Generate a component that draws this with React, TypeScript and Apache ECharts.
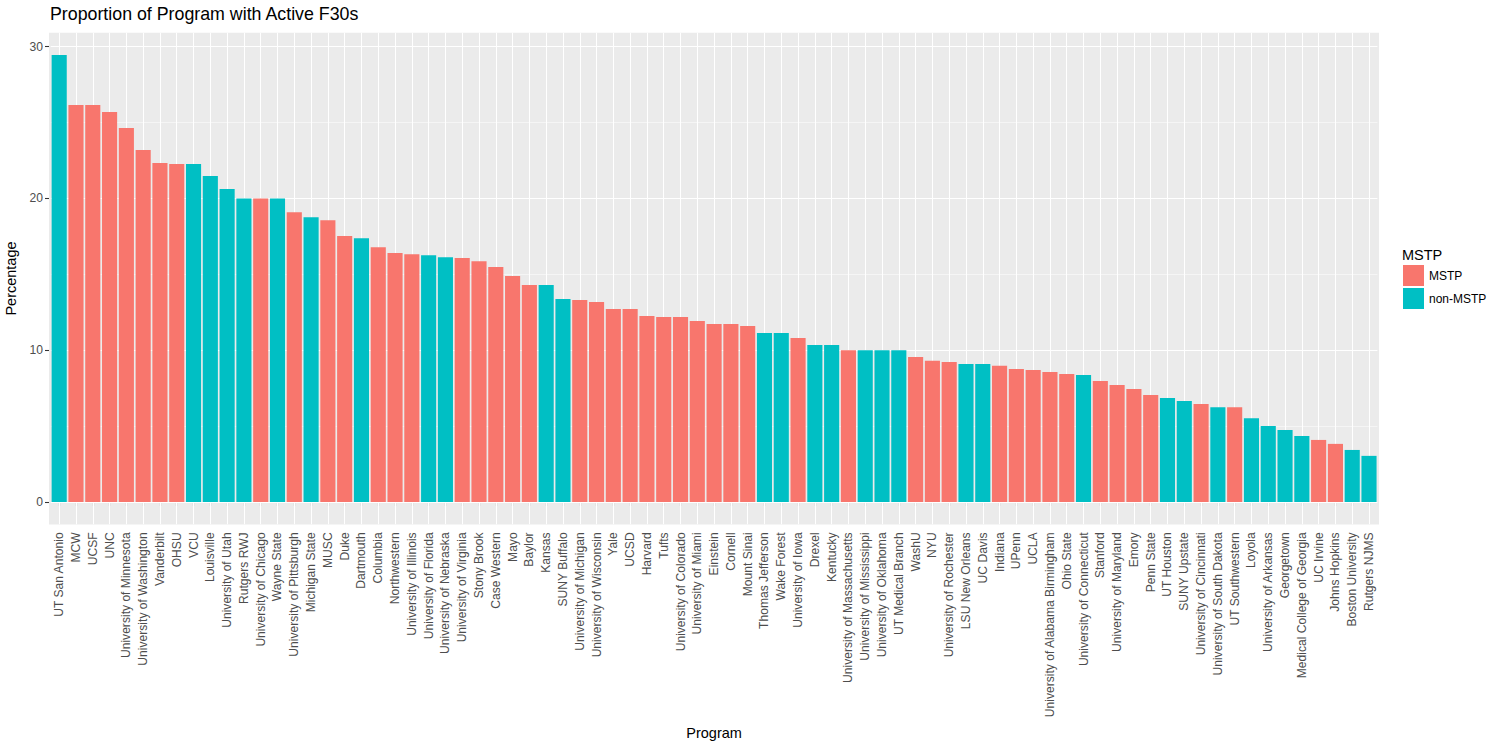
import React, { useEffect, useRef } from "react";
import * as echarts from "echarts";

const programs = [
  "UT San Antonio", "MCW", "UCSF", "UNC", "University of Minnesota", "University of Washington",
  "Vanderbilt", "OHSU", "VCU", "Louisville", "University of Utah", "Rutgers RWJ",
  "University of Chicago", "Wayne State", "University of Pittsburgh", "Michigan State", "MUSC", "Duke",
  "Dartmouth", "Columbia", "Northwestern", "University of Illinois", "University of Florida", "University of Nebraska",
  "University of Virginia", "Stony Brook", "Case Western", "Mayo", "Baylor", "Kansas",
  "SUNY Buffalo", "University of Michigan", "University of Wisconsin", "Yale", "UCSD", "Harvard",
  "Tufts", "University of Colorado", "University of Miami", "Einstein", "Cornell", "Mount Sinai",
  "Thomas Jefferson", "Wake Forest", "University of Iowa", "Drexel", "Kentucky", "University of Massachusetts",
  "University of Mississippi", "University of Oklahoma", "UT Medical Branch", "WashU", "NYU", "University of Rochester",
  "LSU New Orleans", "UC Davis", "Indiana", "UPenn", "UCLA", "University of Alabama Birmingham",
  "Ohio State", "University of Connecticut", "Stanford", "University of Maryland", "Emory", "Penn State",
  "UT Houston", "SUNY Upstate", "University of Cincinnati", "University of South Dakota", "UT Southwestern", "Loyola",
  "University of Arkansas", "Georgetown", "Medical College of Georgia", "UC Irvine", "Johns Hopkins", "Boston University",
  "Rutgers NJMS",
];

const percentages = [
  29.45, 26.16, 26.16, 25.7, 24.64, 23.19,
  22.33, 22.27, 22.27, 21.48, 20.62, 20.0,
  20.0, 20.0, 19.1, 18.77, 18.57, 17.52,
  17.38, 16.79, 16.4, 16.33, 16.26, 16.13,
  16.07, 15.87, 15.48, 14.89, 14.3, 14.3,
  13.38, 13.31, 13.18, 12.72, 12.72, 12.26,
  12.19, 12.19, 11.93, 11.73, 11.73, 11.6,
  11.14, 11.14, 10.81, 10.35, 10.35, 10.0,
  10.0, 10.0, 10.0, 9.56, 9.3, 9.23,
  9.1, 9.1, 8.97, 8.77, 8.7, 8.57,
  8.44, 8.37, 7.98, 7.71, 7.45, 7.05,
  6.85, 6.65, 6.45, 6.25, 6.25, 5.52,
  5.0, 4.75, 4.35, 4.09, 3.83, 3.43,
  3.04,
];

const M = "MSTP";
const N = "non-MSTP";
const groups = [
  N, M, M, M, M, M,
  M, M, N, N, N, N,
  M, N, M, N, M, M,
  N, M, M, M, N, N,
  M, M, M, M, M, N,
  N, M, M, M, M, M,
  M, M, M, M, M, M,
  N, N, M, N, N, M,
  N, N, N, M, M, M,
  N, N, M, M, M, M,
  M, N, M, M, M, M,
  N, N, M, N, M, N,
  N, N, N, M, M, N,
  N,
];

const groupNames = [M, N];
const groupColors = ["#F8766D", "#00BFC4"];
const yMajorTicks = [0, 10, 20, 30];
const yMinorTicks = [5, 15, 25];

const FONT = "'Liberation Sans', Arial, Helvetica, sans-serif";

export default function App() {
  const ref = useRef<HTMLDivElement>(null);

  useEffect(() => {
    document.body.style.margin = "0";
    const chart = echarts.init(ref.current as HTMLDivElement, null, { renderer: "svg" });
    const maxV = Math.max(...percentages);
    const yMin = -maxV * 0.05;
    const yMax = maxV * 1.05;

    const series = groupNames.map((g, gi) => ({
      name: g,
      type: "bar",
      barWidth: "90%",
      barGap: "-100%",
      z: 3,
      itemStyle: { color: groupColors[gi] },
      emphasis: { disabled: true },
      data: percentages.map((v, i) => (groups[i] === g ? v : "-")),
      ...(gi === 0
        ? {
            markLine: {
              silent: true,
              z: 1,
              animation: false,
              symbol: ["none", "none"],
              label: { show: false },
              emphasis: { disabled: true },
              lineStyle: { color: "#FFFFFF", type: "solid", width: 1.07, opacity: 1 },
              data: [
                ...yMajorTicks.map((v) => ({ yAxis: v })),
                ...yMinorTicks.map((v) => ({ yAxis: v, lineStyle: { width: 0.53 } })),
                ...programs.map((p) => ({ xAxis: p })),
              ],
            },
          }
        : {}),
    }));

    chart.setOption({
      animation: false,
      textStyle: { fontFamily: FONT },
      title: [
        {
          text: "Proportion of Program with Active F30s",
          left: 50,
          top: 5,
          padding: 0,
          textStyle: { fontSize: 17.8, fontWeight: "normal", color: "#000000", fontFamily: FONT },
        },
        {
          text: "MSTP",
          left: 1402,
          top: 247,
          padding: 0,
          textStyle: { fontSize: 14.5, fontWeight: "normal", color: "#000000", fontFamily: FONT },
        },
      ],
      legend: {
        orient: "vertical",
        left: 1403,
        top: 265,
        padding: 0,
        itemWidth: 21,
        itemHeight: 21,
        itemGap: 2,
        icon: "rect",
        selectedMode: false,
        data: groupNames,
        textStyle: { fontSize: 12, color: "#000000", fontFamily: FONT },
      },
      graphic: [
        {
          type: "rect",
          z: 0,
          silent: true,
          shape: { x: 49, y: 32.7, width: 1330, height: 491.7 },
          style: { fill: "#EBEBEB" },
        },
      ],
      grid: {
        left: 50.8,
        right: 122.6,
        top: 32.7,
        bottom: 225.65,
        containLabel: false,
        outerBoundsMode: "none",
      },
      xAxis: {
        type: "category",
        data: programs,
        boundaryGap: true,
        axisLine: { show: false },
        axisTick: {
          show: true,
          alignWithLabel: true,
          interval: 0,
          length: 4,
          lineStyle: { color: "#333333", width: 1.07 },
        },
        axisLabel: {
          interval: 0,
          rotate: 90,
          margin: 8,
          fontSize: 12.1,
          color: "#4D4D4D",
          fontFamily: FONT,
        },
        splitLine: { show: false },
        name: "Program",
        nameLocation: "middle",
        nameGap: 201,
        nameTextStyle: { fontSize: 14.5, color: "#000000", fontFamily: FONT },
      },
      yAxis: {
        type: "value",
        min: yMin,
        max: yMax,
        offset: 1.8,
        axisLine: { show: false },
        axisTick: {
          show: true,
          length: 4,
          customValues: yMajorTicks,
          lineStyle: { color: "#333333", width: 1.07 },
        },
        axisLabel: {
          customValues: yMajorTicks,
          margin: 6,
          fontSize: 12.1,
          color: "#4D4D4D",
          fontFamily: FONT,
        },
        splitLine: { show: false },
        minorSplitLine: { show: false },
        name: "Percentage",
        nameLocation: "middle",
        nameGap: 28,
        nameTextStyle: { fontSize: 14.5, color: "#000000", fontFamily: FONT },
      },
      series,
    });

    return () => chart.dispose();
  }, []);

  return <div ref={ref} style={{ width: 1500, height: 750 }} />;
}
